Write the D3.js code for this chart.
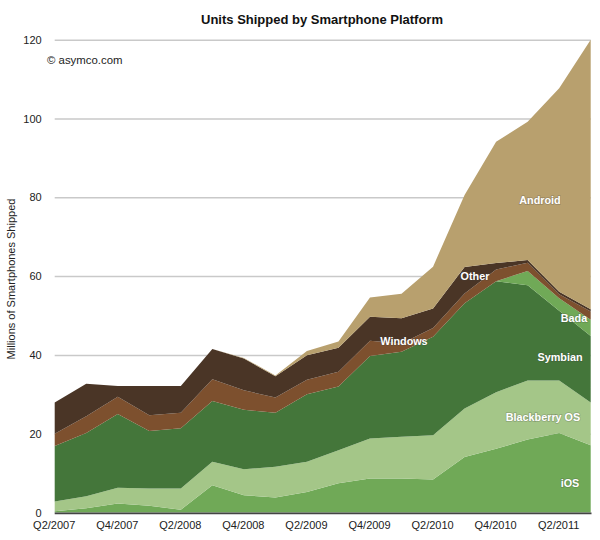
<!DOCTYPE html>
<html>
<head>
<meta charset="utf-8">
<script src="https://cdn.jsdelivr.net/npm/d3@7"></script>
<style>
body { margin: 0; background: #fff; }
text { font-family: "Liberation Sans", Arial, sans-serif; fill: #222; }
.tick line { stroke: #c9c9c9; stroke-width: 1.5px; }
.domain { display: none; }
.tick text { font-size: 11px; }
.mark { font-size: 10.8px; font-weight: bold; fill: #fff; text-anchor: middle; paint-order: stroke; stroke: rgba(60,60,60,0.25); stroke-width: 1.5px; }
</style>
</head>
<body>
<div id="chart"></div>
<script>
var quarters = ["Q2/2007","Q3/2007","Q4/2007","Q1/2008","Q2/2008","Q3/2008","Q4/2008","Q1/2009","Q2/2009",
                "Q3/2009","Q4/2009","Q1/2010","Q2/2010","Q3/2010","Q4/2010","Q1/2011","Q2/2011","Q3/2011"];
var quarterTicks = ["Q2/2007","Q4/2007","Q2/2008","Q4/2008","Q2/2009","Q4/2009","Q2/2010","Q4/2010","Q2/2011"];
var unitTicks = [0,20,40,60,80,100,120];

// millions of units per quarter, bottom of the stack first
var ios = [0.3,1.1,2.3,1.7,0.7,6.9,4.4,3.8,5.2,7.4,8.6,8.6,8.4,14.1,16.2,18.5,20.2,17.1];
var blackberry = [2.5,3,4,4.4,5.4,6,6.6,7.8,7.7,8.4,10.2,10.6,11.2,12.3,14.3,15,13.3,10.8];
var symbian = [14.1,16.1,18.7,14.6,15.3,15.4,15.1,13.7,17.1,16.2,20.9,21.6,25,26.7,28.2,24.2,17.7,16.9];
var bada = [0,0,0,0,0,0,0,0,0,0,0,0,0,0,0,3.6,3.2,4.1];
var windows = [3.1,4.2,4.4,4,3.9,5.5,4.9,3.9,3.7,3.7,3.9,2.1,2.2,2.5,3,2.1,1,2.1];
var other = [7.9,8.3,2.7,7.4,6.8,7.7,8.1,5.4,6.2,6.1,6.1,6.4,5,6.7,1.6,0.7,0.6,0.6];
var android = [0,0,0,0,0,0,0.1,0.2,1.1,1.6,4.9,6.2,10.6,18.3,30.8,35.1,51.7,68.4];

var platforms = ["iOS","Blackberry OS","Symbian","Bada","Windows","Other","Android"];
var platformValues = [ios, blackberry, symbian, bada, windows, other, android];
var platformColors = ["#70a957","#a4c688","#44763a","#70a957","#7d502e","#4a3526","#b8a06e"];

var svg = d3.select("#chart").append("svg").attr("width", 600).attr("height", 540);

var x = d3.scalePoint().domain(quarters).range([54.7, 590.7]);
var y = d3.scaleLinear().domain([0, 120]).range([512.5, 39.7]);

// Gridlines come from the axis ticks
svg.append("g")
    .attr("transform", "translate(54.7,0)")
    .call(d3.axisLeft(y).tickValues(unitTicks).tickSize(-536).tickPadding(13))
    .call(function(g){ g.selectAll(".tick line").filter(function(d){ return d === 0; }).remove(); });

var table = quarters.map(function(q, i){
    var row = {quarter: q};
    platforms.forEach(function(p, j){ row[p] = platformValues[j][i]; });
    return row;
});
var stacked = d3.stack().keys(platforms)(table);

var area = d3.area()
    .x(function(d){ return x(d.data.quarter); })
    .y0(function(d){ return y(d[0]); })
    .y1(function(d){ return y(d[1]); });

svg.append("g").selectAll("path")
    .data(stacked)
    .enter()
    .append("path")
      .attr("d", area)
      .attr("fill", function(d, i){ return platformColors[i]; });

// Dark baseline
svg.append("line")
    .attr("x1", 54.7).attr("x2", 591.5)
    .attr("y1", y(0) + 0.8).attr("y2", y(0) + 0.8)
    .attr("stroke", "#444").attr("stroke-width", 1.8);

svg.append("g")
    .attr("transform", "translate(0," + y(0) + ")")
    .call(d3.axisBottom(x).tickValues(quarterTicks).tickSize(0).tickPadding(9))
    .call(function(g){ g.selectAll(".tick text").attr("dx", -1); });

svg.append("text")
    .attr("x", 322).attr("y", 24)
    .attr("text-anchor", "middle")
    .style("font-size", "13px").style("font-weight", "bold").style("fill", "#111")
    .text("Units Shipped by Smartphone Platform");

svg.append("text")
    .attr("x", 47).attr("y", 64)
    .style("font-size", "11.4px")
    .text("© asymco.com");

svg.append("text")
    .attr("transform", "translate(15,279) rotate(-90)")
    .attr("text-anchor", "middle")
    .style("font-size", "11px")
    .text("Millions of Smartphones Shipped");

// Labels on the areas
var labels = [
    ["Android", 540, 204],
    ["Other", 475, 280],
    ["Windows", 404, 345],
    ["Bada", 574, 322],
    ["Symbian", 560, 361],
    ["Blackberry OS", 543, 421],
    ["iOS", 570, 487]
];
svg.append("g").selectAll("text")
    .data(labels)
    .enter()
    .append("text")
      .attr("class", "mark")
      .attr("x", function(d){ return d[1]; })
      .attr("y", function(d){ return d[2]; })
      .text(function(d){ return d[0]; });
</script>
</body>
</html>
